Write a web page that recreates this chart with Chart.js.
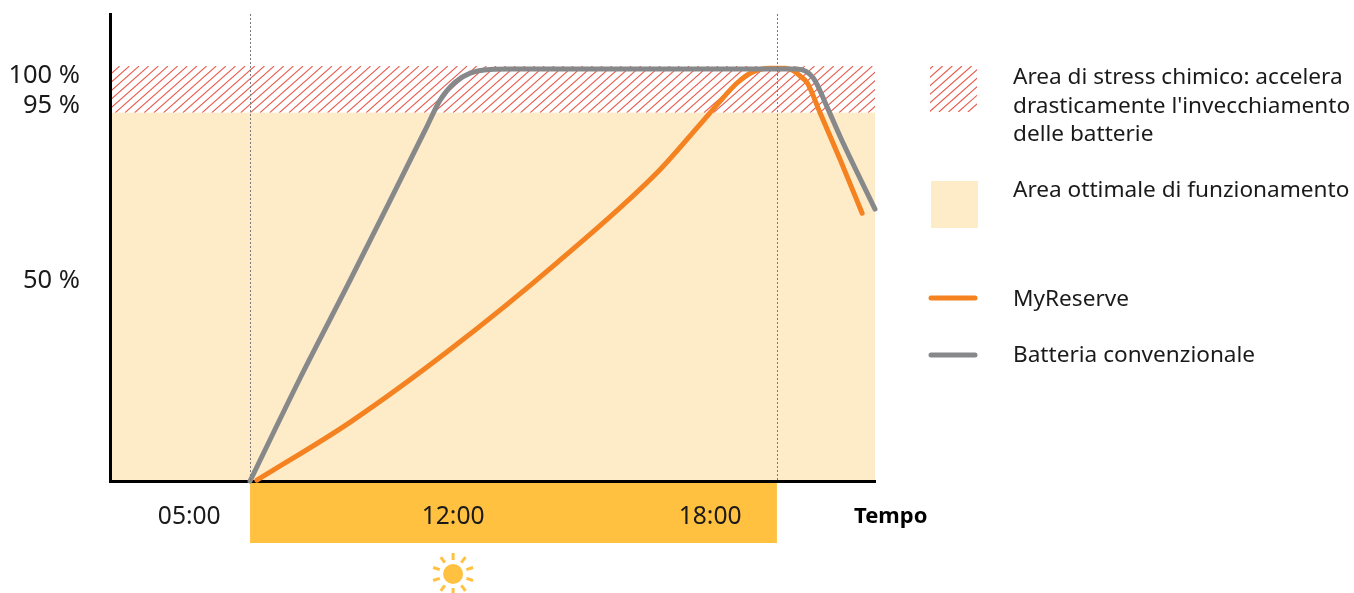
<!DOCTYPE html>
<html><head><meta charset="utf-8">
<style>html,body{margin:0;padding:0;background:#fff}#w{position:relative;width:1354px;height:593px}canvas{display:block}</style>
<script src="https://cdn.jsdelivr.net/npm/chart.js@4"></script></head>
<body><div id="w"><canvas id="c" width="1354" height="593"></canvas></div>
<script>
const myReserveHours=[7.42,9.60,11.93,14.43,16.76,17.76,18.16,18.63,19.00,19.40,19.75,19.94,20.10,20.27,20.57,21.04,21.55];
const myReserveLevel=[0.2,14.3,31.9,53.0,74.8,86.5,91.3,96.6,99.3,100.2,100.2,99.6,98.3,96.6,89.3,77.9,65];
const batteryHours=[7.26,8.43,9.60,10.77,11.35,11.70,12.05,12.40,12.86,13.33,20.03,20.41,20.73,21.04,21.85];
const batteryLevel=[0,25,48.8,73.1,85.2,92.5,96.8,99,99.9,100,100,97.8,90.8,83.5,66];
const xTickValues=[5.84,12,18];
const xTickLabels=['05:00','12:00','18:00'];
const yTickValues=[48.5,91.2,98.3];
const yTickLabels=['50 %','95 %','100 %'];
const stressBand=[89.4,100.7];
const daylight=[7.26,19.56];
const xRange=[3.99,21.85];
const yRange=[0,113.35];
const seriesNames=['MyReserve','Batteria convenzionale'];
const stressLegend=['Area di stress chimico: accelera',"drasticamente l'invecchiamento",'delle batterie'];
const optimalLegend='Area ottimale di funzionamento';
const axisTitle='Tempo';
const ORANGE='#f58220',GRAY='#87888a',CREAM='#feebc8',SUN='#ffc13f',RED='#e8594c';
const FONT='"Noto Sans"';
function hatch(ctx,x,y,w,h,off){
  ctx.save();ctx.beginPath();ctx.rect(x,y,w,h);ctx.clip();
  ctx.strokeStyle=RED;ctx.lineWidth=1.1;
  for(let a=x-h*1.13+off;a<x+w;a+=9.65){ctx.beginPath();ctx.moveTo(a,y+h);ctx.lineTo(a+h*1.13,y);ctx.stroke();}
  ctx.restore();
}
const deco={id:'deco',
 beforeDraw(ch){
  const c=ch.ctx,X=ch.scales.x,Y=ch.scales.y,a=ch.chartArea;
  const t=Y.getPixelForValue(stressBand[1]),b=Y.getPixelForValue(stressBand[0]);
  c.fillStyle=CREAM;c.fillRect(a.left,b,a.right-a.left,a.bottom-b);
  hatch(c,a.left,t,a.right-a.left,b-t,0);
  c.fillStyle=SUN;
  const l=X.getPixelForValue(daylight[0]),r=X.getPixelForValue(daylight[1]);
  c.fillRect(l,a.bottom,r-l,62);
 },
 afterDatasetsDraw(ch){
  const c=ch.ctx,X=ch.scales.x,a=ch.chartArea;
  c.save();c.strokeStyle='#77787b';c.lineWidth=1;c.setLineDash([2,2]);
  daylight.forEach(v=>{const p=Math.round(X.getPixelForValue(v))+.5;c.beginPath();c.moveTo(p,a.top);c.lineTo(p,a.bottom);c.stroke();});
  c.restore();
 },
 afterDraw(ch){
  const c=ch.ctx,X=ch.scales.x;
  c.save();
  c.textBaseline='middle';c.textAlign='left';c.fillStyle='#1a1a1a';
  c.font='22.6px '+FONT;
  stressLegend.forEach((s,i)=>c.fillText(s,1013,78+i*28.2));
  c.fillText(optimalLegend,1013,191);
  c.fillText(seriesNames[0],1013,299.5);
  c.fillText(seriesNames[1],1013,355.5);
  c.font='bold 22px '+FONT;c.fillStyle='#000';
  c.fillText(axisTitle,854,517);
  hatch(c,930,66,47,46,3);
  c.fillStyle=CREAM;c.fillRect(931,181,47,47);
  c.lineWidth=5;c.lineCap='round';
  [[ORANGE,298],[GRAY,355]].forEach(([col,y])=>{c.strokeStyle=col;c.beginPath();c.moveTo(931,y);c.lineTo(975,y);c.stroke();});
  const sx=X.getPixelForValue(12),sy=574;
  c.fillStyle=SUN;c.strokeStyle=SUN;c.lineWidth=3;c.lineCap='butt';
  c.beginPath();c.arc(sx,sy,10,0,Math.PI*2);c.fill();
  for(let i=0;i<10;i++){const t=-Math.PI/2+i*Math.PI/5;
    c.beginPath();c.moveTo(sx+Math.cos(t)*14,sy+Math.sin(t)*14);c.lineTo(sx+Math.cos(t)*21,sy+Math.sin(t)*21);c.stroke();}
  c.restore();
 }};
new Chart(document.getElementById('c'),{
 type:'line',
 data:{datasets:[
  {label:seriesNames[1],data:batteryHours.map((x,i)=>({x,y:batteryLevel[i]})),borderColor:GRAY,borderWidth:5,pointRadius:0,cubicInterpolationMode:'monotone',borderCapStyle:'round',clip:false},
  {label:seriesNames[0],data:myReserveHours.map((x,i)=>({x,y:myReserveLevel[i]})),borderColor:ORANGE,borderWidth:5,pointRadius:0,cubicInterpolationMode:'monotone',borderCapStyle:'round',clip:false}
 ]},
 options:{responsive:false,animation:false,devicePixelRatio:1,
  layout:{padding:{left:0,right:479,top:14,bottom:0}},
  plugins:{legend:{display:false},tooltip:{enabled:false}},
  scales:{
   x:{type:'linear',min:xRange[0],max:xRange[1],
     afterBuildTicks(s){s.ticks=xTickValues.map(value=>({value}));},
     afterFit(s){s.height=112;s.paddingLeft=0;s.paddingRight=0;},
     grid:{display:false,drawTicks:false},border:{display:true,color:'#000',width:3},
     ticks:{autoSkip:false,maxRotation:0,padding:21,color:'#1a1a1a',font:{family:FONT,size:24.6},callback:v=>xTickLabels[xTickValues.indexOf(v)]}},
   y:{type:'linear',min:yRange[0],max:yRange[1],
     afterBuildTicks(s){s.ticks=yTickValues.map(value=>({value}));},
     afterFit(s){s.width=110;s.paddingTop=0;s.paddingBottom=0;},
     grid:{display:false,drawTicks:false},border:{display:true,color:'#000',width:3},
     ticks:{autoSkip:false,padding:30,color:'#1a1a1a',font:{family:FONT,size:25.5},callback:v=>yTickLabels[yTickValues.indexOf(v)]}}
  }},
 plugins:[deco]
});
</script>
</body></html>
